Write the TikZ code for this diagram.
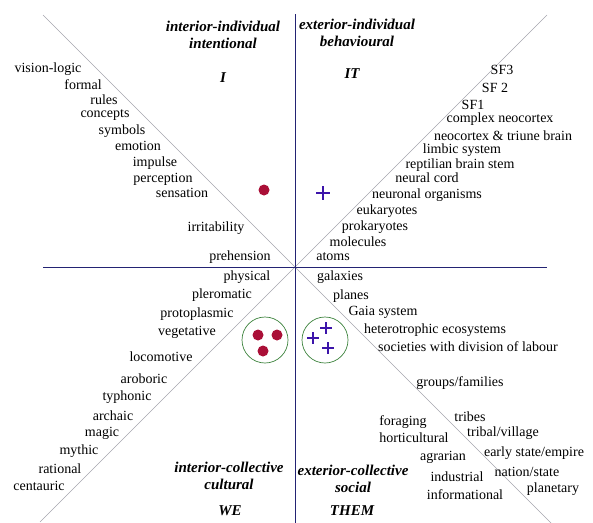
\documentclass[tikz,border=0pt]{standalone}
\usepackage{fontspec}
\setmainfont{Liberation Serif}
\usetikzlibrary{positioning}

\definecolor{axisblue}{RGB}{35,35,115}
\definecolor{diaggray}{RGB}{165,165,175}
\definecolor{dotred}{RGB}{170,15,55}
\definecolor{plusblue}{RGB}{60,20,170}
\definecolor{ringgreen}{RGB}{60,130,60}

\begin{document}
\begin{tikzpicture}[
    x=1pt, y=-1pt,
    lbl/.style={font=\fontsize{14}{16}\selectfont, inner sep=0pt},
    head/.style={font=\fontsize{15}{16.5}\selectfont\bfseries\itshape, align=center, inner sep=0pt},
    axis/.style={axisblue, line width=1pt},
    diag/.style={diaggray, line width=0.6pt},
    dot/.style={circle, fill=dotred, minimum size=11pt, inner sep=0pt},
    plus/.style={plusblue, line width=2.6pt},
    ring/.style={circle, draw=ringgreen, line width=0.7pt, minimum size=46pt, inner sep=0pt}
]
    \useasboundingbox (0,0) rectangle (593,522);
    \clip (0,0) rectangle (593,522);

    % Axes
    \coordinate (top) at (295,14);
    \coordinate (bottom) at (295,524);
    \coordinate (left) at (43,267);
    \coordinate (right) at (547,267);
    \coordinate (tl) at (43,15);
    \coordinate (br) at (553,525);
    \coordinate (tr) at (547,15);
    \coordinate (bl) at (40,522);
    \draw[diag] (tl) -- (br);
    \draw[diag] (tr) -- (bl);
    \draw[axis] (top) -- (bottom);
    \draw[axis] (left) -- (right);

    % Quadrant headings
    \node[head] (ul) at (223,35) {interior-individual\\intentional};
    \node[head] (ur) at (357,33) {exterior-individual\\behavioural};
    \node[head] (ll) at (229,476) {interior-collective\\cultural};
    \node[head] (lr) at (353,479) {exterior-collective\\social};
    \node[head] (i) at (223,78) {I};
    \node[head] (it) at (352,74) {IT};
    \node[head] (we) at (230,511) {WE};
    \node[head] (them) at (352,511) {THEM};

    % Upper left
    \node[lbl] (l1) at (48,69) {vision-logic};
    \node[lbl] (l2) at (83,85) {formal};
    \node[lbl] (l3) at (104,100) {rules};
    \node[lbl] (l4) at (105,115) {concepts};
    \node[lbl] (l5) at (122,131) {symbols};
    \node[lbl] (l6) at (138,146) {emotion};
    \node[lbl] (l7) at (155,163) {impulse};
    \node[lbl] (l8) at (163,179) {perception};
    \node[lbl] (l9) at (182,193) {sensation};
    \node[lbl] (l10) at (216,228) {irritability};
    \node[lbl] (l11) at (240,257) {prehension};

    % Upper right
    \node[lbl] (r1) at (502,70) {SF3};
    \node[lbl] (r2) at (495,88) {SF 2};
    \node[lbl] (r3) at (473,105) {SF1};
    \node[lbl] (r4) at (500,119) {complex neocortex};
    \node[lbl] (r5) at (503,136) {neocortex \& triune brain};
    \node[lbl] (r6) at (462,150) {limbic system};
    \node[lbl] (r7) at (460,165) {reptilian brain stem};
    \node[lbl] (r8) at (427,178) {neural cord};
    \node[lbl] (r9) at (427,195) {neuronal organisms};
    \node[lbl] (r10) at (387,211) {eukaryotes};
    \node[lbl] (r11) at (375,227) {prokaryotes};
    \node[lbl] (r12) at (358,242) {molecules};
    \node[lbl] (r13) at (333,257) {atoms};

    % Lower left
    \node[lbl] (b1) at (247,277) {physical};
    \node[lbl] (b2) at (222,295) {pleromatic};
    \node[lbl] (b3) at (197,314) {protoplasmic};
    \node[lbl] (b4) at (187,332) {vegetative};
    \node[lbl] (b5) at (161,357) {locomotive};
    \node[lbl] (b6) at (144,379) {aroboric};
    \node[lbl] (b7) at (127,397) {typhonic};
    \node[lbl] (b8) at (113,416) {archaic};
    \node[lbl] (b9) at (102,433) {magic};
    \node[lbl] (b10) at (79,451) {mythic};
    \node[lbl] (b11) at (60,469) {rational};
    \node[lbl] (b12) at (39,486) {centauric};

    % Lower right
    \node[lbl] (s1) at (340,277) {galaxies};
    \node[lbl] (s2) at (351,296) {planes};
    \node[lbl] (s3) at (383,312) {Gaia system};
    \node[lbl] (s4) at (435,330) {heterotrophic ecosystems};
    \node[lbl] (s5) at (468,347) {societies with division of labour};
    \node[lbl] (s6) at (460,383) {groups/families};
    \node[lbl] (s7) at (403,422) {foraging};
    \node[lbl] (s8) at (470,417) {tribes};
    \node[lbl] (s9) at (414,438) {horticultural};
    \node[lbl] (s10) at (503,433) {tribal/village};
    \node[lbl] (s11) at (443,457) {agrarian};
    \node[lbl] (s12) at (534,453) {early state/empire};
    \node[lbl] (s13) at (457,477) {industrial};
    \node[lbl] (s14) at (527,472) {nation/state};
    \node[lbl] (s15) at (465,495) {informational};
    \node[lbl] (s16) at (553,489) {planetary};

    % Individual markers
    \node[dot] (d0) at (264,190) {};
    \draw[plus] (323,186) -- (323,200) (316,193) -- (330,193);

    % Collective markers
    \node[ring] (rl) at (265,340) {};
    \node[dot] (d1) at (258,335) {};
    \node[dot] (d2) at (277,335) {};
    \node[dot] (d3) at (263,351) {};
    \node[ring] (rr) at (325,340) {};
    \foreach \px/\py in {326/328, 313/338, 328/348}
        \draw[plus] (\px,\py-6) -- (\px,\py+6) (\px-6,\py) -- (\px+6,\py);
\end{tikzpicture}
\end{document}
